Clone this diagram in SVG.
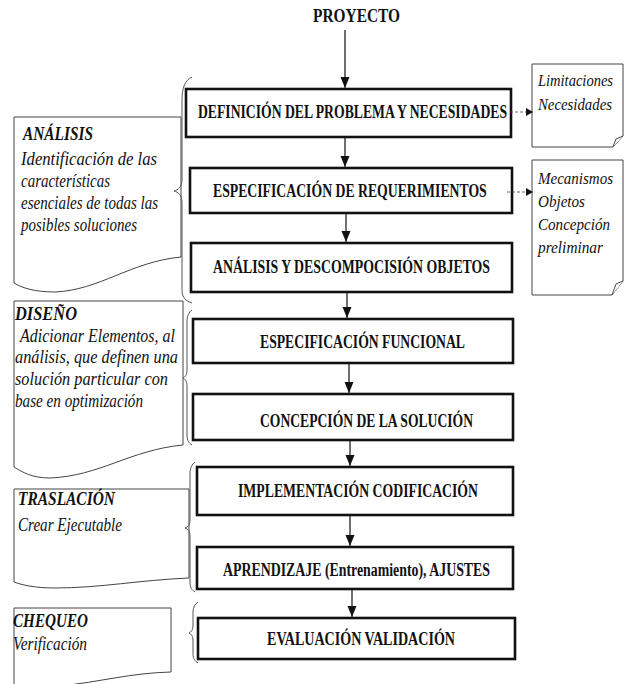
<svg xmlns="http://www.w3.org/2000/svg" width="625" height="684" viewBox="0 0 625 684">
<style>
.box{fill:#fff;stroke:#111;stroke-width:2.6}
.note{fill:#fff;stroke:#444;stroke-width:1}
.brace{fill:none;stroke:#555;stroke-width:1}
.bt{font-family:"Liberation Serif","Times New Roman",serif;font-weight:bold;font-size:18.5px;fill:#111}
.nt{font-family:"Liberation Serif","Times New Roman",serif;font-style:italic;font-size:18.5px;fill:#111}
.rt{font-family:"Liberation Serif","Times New Roman",serif;font-style:italic;font-size:16px;fill:#111}
.nh{font-family:"Liberation Serif","Times New Roman",serif;font-style:italic;font-weight:bold;font-size:18.5px;fill:#111}
.arr{stroke:#111;stroke-width:1.2;fill:none}
.dash{stroke:#444;stroke-width:0.8;stroke-dasharray:3 2;fill:none}
</style>
<defs>
<marker id="ah" markerUnits="userSpaceOnUse" markerWidth="10" markerHeight="14" refX="11" refY="4.5" orient="auto">
<path d="M0,0 L11,4.5 L0,9 Z" fill="#111"/>
</marker>
<marker id="ahs" markerUnits="userSpaceOnUse" markerWidth="8" markerHeight="10" refX="7" refY="4" orient="auto">
<path d="M0,0 L7,4 L0,8 Z" fill="#111"/>
</marker>
</defs>

<rect width="625" height="684" fill="#fff"/>

<g id="proyecto">
<text class="bt" x="313" y="22" font-size="19" textLength="87" lengthAdjust="spacingAndGlyphs">PROYECTO</text>
</g>

<g id="box1">
<rect class="box" x="186" y="89" width="325" height="48"/>
<text class="bt" transform="translate(198,118) scale(0.75,1)" x="0" y="0" textLength="412" lengthAdjust="spacingAndGlyphs">DEFINICIÓN DEL PROBLEMA Y NECESIDADES</text>
</g>
<g id="box2">
<rect class="box" x="190" y="168" width="322" height="45"/>
<text class="bt" transform="translate(213,197) scale(0.75,1)" x="0" y="0" textLength="365" lengthAdjust="spacingAndGlyphs">ESPECIFICACIÓN DE REQUERIMIENTOS</text>
</g>
<g id="box3">
<rect class="box" x="191" y="243" width="321" height="49"/>
<text class="bt" x="213" y="273" textLength="277" lengthAdjust="spacingAndGlyphs">ANÁLISIS Y DESCOMPOCISIÓN OBJETOS</text>
</g>
<g id="box4">
<rect class="box" x="193" y="319" width="320" height="44"/>
<text class="bt" x="260" y="348" textLength="205" lengthAdjust="spacingAndGlyphs">ESPECIFICACIÓN FUNCIONAL</text>
</g>
<g id="box5">
<rect class="box" x="193" y="394" width="320" height="46"/>
<text class="bt" x="260" y="427" textLength="213" lengthAdjust="spacingAndGlyphs">CONCEPCIÓN DE LA SOLUCIÓN</text>
</g>
<g id="box6">
<rect class="box" x="197" y="467" width="316" height="48"/>
<text class="bt" x="238" y="497" textLength="240" lengthAdjust="spacingAndGlyphs">IMPLEMENTACIÓN CODIFICACIÓN</text>
</g>
<g id="box7">
<rect class="box" x="197" y="547" width="316" height="42"/>
<text class="bt" x="223" y="576" font-size="16.5" textLength="267" lengthAdjust="spacingAndGlyphs">APRENDIZAJE (Entrenamiento), AJUSTES</text>
</g>
<g id="box8">
<rect class="box" x="198" y="618" width="317" height="41"/>
<text class="bt" x="267" y="645" textLength="188" lengthAdjust="spacingAndGlyphs">EVALUACIÓN VALIDACIÓN</text>
</g>

<g id="note-limitaciones">
<path class="note" d="M532,64 H623 V136 L613,147 H532 Z"/>
<path class="note" d="M613,147 L616,139 L623,136"/>
<text class="rt" x="538" y="86" textLength="75" lengthAdjust="spacingAndGlyphs">Limitaciones</text>
<text class="rt" x="538" y="110" textLength="74" lengthAdjust="spacingAndGlyphs">Necesidades</text>
</g>
<g id="note-mecanismos">
<path class="note" d="M532,160 H623 V281 L612,295 H532 Z"/>
<path class="note" d="M612,295 L616,284 L623,281"/>
<text class="rt" x="538" y="184" textLength="75" lengthAdjust="spacingAndGlyphs">Mecanismos</text>
<text class="rt" x="538" y="207" textLength="47" lengthAdjust="spacingAndGlyphs">Objetos</text>
<text class="rt" x="538" y="230" textLength="72" lengthAdjust="spacingAndGlyphs">Concepción</text>
<text class="rt" x="538" y="253" textLength="65" lengthAdjust="spacingAndGlyphs">preliminar</text>
</g>

<g id="note-analisis">
<path class="note" d="M14,117 H181 V257 C130,262 100,290 55,292 C35,292 22,288 14,283 Z"/>
<text class="nh" x="23" y="140" textLength="70" lengthAdjust="spacingAndGlyphs">ANÁLISIS</text>
<text class="nt" x="21" y="165" textLength="136" lengthAdjust="spacingAndGlyphs">Identificación de las</text>
<text class="nt" x="21" y="187" textLength="89" lengthAdjust="spacingAndGlyphs">características</text>
<text class="nt" x="21" y="209" textLength="137" lengthAdjust="spacingAndGlyphs">esenciales de todas las</text>
<text class="nt" x="21" y="231" textLength="116" lengthAdjust="spacingAndGlyphs">posibles soluciones</text>
</g>
<g id="note-diseno">
<path class="note" d="M14,301 H183 V445 C130,450 100,476 50,478 C32,478 22,472 14,467 Z"/>
<text class="nh" x="15" y="320" textLength="62" lengthAdjust="spacingAndGlyphs">DISEÑO</text>
<text class="nt" x="20" y="342" textLength="155" lengthAdjust="spacingAndGlyphs">Adicionar Elementos, al</text>
<text class="nt" x="15" y="363" textLength="163" lengthAdjust="spacingAndGlyphs">análisis, que definen una</text>
<text class="nt" x="15" y="385" textLength="153" lengthAdjust="spacingAndGlyphs">solución particular con</text>
<text class="nt" x="15" y="407" textLength="128" lengthAdjust="spacingAndGlyphs">base en optimización</text>
</g>
<g id="note-traslacion">
<path class="note" d="M14,489 H189 V578 C140,580 100,588 55,588 C35,588 22,585 14,582 Z"/>
<text class="nh" x="18" y="505" textLength="97" lengthAdjust="spacingAndGlyphs">TRASLACIÓN</text>
<text class="nt" x="18" y="531" textLength="104" lengthAdjust="spacingAndGlyphs">Crear Ejecutable</text>
</g>
<g id="note-chequeo">
<path class="note" d="M14,608 H171 V672 C130,673 100,682 60,686 L14,690 Z"/>
<text class="nh" x="13" y="627" textLength="75" lengthAdjust="spacingAndGlyphs">CHEQUEO</text>
<text class="nt" x="13" y="650" textLength="74" lengthAdjust="spacingAndGlyphs">Verificación</text>
</g>

<g id="braces">
<path class="brace" d="M192,77 C185,80 182,88 182,100 L182,180 C182,187 178,190 174,191 C178,192 182,195 182,202 L182,290 C182,298 186,301 192,303"/>
<path class="brace" d="M192,310 C189,312 187,316 187,322 L187,370 C187,375 185,377 183,378 C185,379 187,381 187,386 L187,435 C187,441 189,443 192,445"/>
<path class="brace" d="M195,462 C192,464 190,468 190,474 L190,520 C190,525 188,527 185,528 C188,529 190,531 190,536 L190,582 C190,588 192,590 195,592"/>
<path class="brace" d="M198,602 C195,604 193,607 193,612 L193,626 C193,630 191,632 189,633 C191,634 193,636 193,640 L193,654 C193,659 195,661 198,663"/>
</g>

<g id="connectors">
<line class="arr" x1="345" y1="30" x2="345" y2="88" marker-end="url(#ah)"/>
<line class="arr" x1="345" y1="138" x2="345" y2="167" marker-end="url(#ah)"/>
<line class="arr" x1="346" y1="214" x2="346" y2="242" marker-end="url(#ah)"/>
<line class="arr" x1="347" y1="293" x2="347" y2="318" marker-end="url(#ah)"/>
<line class="arr" x1="349" y1="364" x2="349" y2="393" marker-end="url(#ah)"/>
<line class="arr" x1="350" y1="441" x2="350" y2="466" marker-end="url(#ah)"/>
<line class="arr" x1="350" y1="516" x2="350" y2="546" marker-end="url(#ah)"/>
<line class="arr" x1="352" y1="590" x2="352" y2="617" marker-end="url(#ah)"/>
<line class="dash" x1="510" y1="112" x2="533" y2="112" marker-end="url(#ahs)"/>
<line class="dash" x1="507" y1="192" x2="533" y2="192" marker-end="url(#ahs)"/>
</g>
</svg>
